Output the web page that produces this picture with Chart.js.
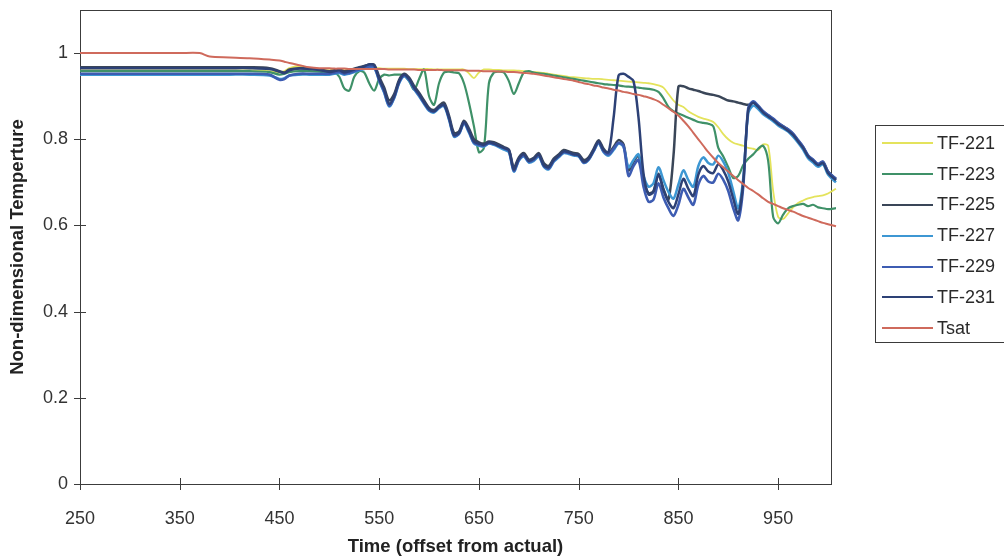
<!DOCTYPE html>
<html>
<head>
<meta charset="utf-8">
<title>Non-dimensional temperature vs time</title>
<script src="https://cdn.jsdelivr.net/npm/chart.js@4.4.0/dist/chart.umd.min.js"></script>
<style>
  html, body { margin: 0; padding: 0; background: #fff; overflow: hidden; }
  #wrap { position: relative; width: 1004px; height: 558px; }
  #legend {
    position: absolute; left: 875px; top: 125px; width: 150px; height: 218px;
    border: 1px solid #3a3a3a; box-sizing: border-box; padding-top: 2px;
    font: 18px "Liberation Sans", Arial, sans-serif; color: #2a2a2a;
  }
  #legend .row { height: 30.8px; display: flex; align-items: center; }
  #legend .swatch { width: 51px; margin-left: 6px; margin-right: 4px; }
</style>
</head>
<body>
<div id="wrap">
  <canvas id="tempChart" width="1004" height="558"></canvas>
  <div id="legend"></div>
</div>
<script>
// time axis shared by all thermocouples
const time = [250,300,350,370,380,400,420,440,450,455,460,470,480,490,
  500,505,510,515,520,525,530,535,540,545,
  550,555,560,565,570,575,580,585,590,595,
  600,605,610,615,620,625,630,635,640,645,
  650,655,660,665,670,675,680,685,690,695,
  700,705,710,715,720,725,730,735,740,745,
  750,755,760,765,770,775,780,785,790,795,
  800,805,810,815,820,825,830,835,840,845,
  850,855,860,865,870,875,880,885,890,895,
  900,905,910,915,920,925,930,935,940,945,
  950,955,960,965,970,975,980,985,990,995,
  1000,1008];

const tf221 = [0.96,0.96,0.96,0.96,0.96,0.96,0.96,0.958,0.955,0.958,0.965,0.97,0.965,0.962,
  0.96,0.962,0.962,0.96,0.962,0.963,0.964,0.965,0.966,0.966,
  0.965,0.964,0.964,0.964,0.964,0.964,0.963,0.963,0.963,0.963,
  0.963,0.962,0.962,0.962,0.962,0.962,0.962,0.962,0.953,0.942,
  0.955,0.962,0.962,0.961,0.961,0.96,0.96,0.96,0.959,0.958,
  0.957,0.956,0.955,0.954,0.952,0.95,0.948,0.947,0.945,0.944,
  0.943,0.942,0.941,0.94,0.94,0.939,0.938,0.937,0.936,0.935,
  0.934,0.933,0.932,0.931,0.93,0.928,0.925,0.92,0.905,0.89,
  0.88,0.875,0.865,0.858,0.852,0.848,0.845,0.84,0.828,0.812,
  0.8,0.792,0.788,0.785,0.78,0.778,0.775,0.788,0.785,0.68,
  0.62,0.615,0.628,0.642,0.652,0.658,0.663,0.666,0.668,0.67,
  0.674,0.685];

const tf223 = [0.958,0.958,0.958,0.958,0.958,0.958,0.958,0.956,0.95,0.952,0.956,0.958,0.958,0.957,
  0.955,0.955,0.945,0.918,0.913,0.945,0.958,0.955,0.93,0.913,
  0.94,0.95,0.948,0.95,0.95,0.948,0.935,0.915,0.94,0.962,
  0.9,0.88,0.93,0.955,0.957,0.955,0.953,0.93,0.885,0.83,
  0.77,0.78,0.93,0.955,0.957,0.955,0.935,0.905,0.93,0.955,
  0.958,0.955,0.953,0.952,0.95,0.948,0.946,0.944,0.942,0.94,
  0.938,0.936,0.934,0.932,0.93,0.928,0.927,0.926,0.925,0.923,
  0.922,0.921,0.92,0.918,0.917,0.915,0.91,0.895,0.875,0.865,
  0.86,0.855,0.85,0.845,0.84,0.838,0.836,0.83,0.78,0.76,
  0.735,0.71,0.715,0.74,0.755,0.765,0.778,0.785,0.75,0.62,
  0.605,0.625,0.64,0.645,0.648,0.65,0.645,0.648,0.642,0.64,
  0.638,0.64];

const tf225 = [0.967,0.967,0.967,0.967,0.967,0.967,0.967,0.965,0.958,0.955,0.962,0.965,0.964,0.962,
  0.958,0.96,0.962,0.958,0.96,0.964,0.967,0.97,0.973,0.973,
  0.945,0.92,0.89,0.905,0.938,0.952,0.943,0.924,0.908,0.89,
  0.873,0.868,0.878,0.885,0.855,0.815,0.818,0.843,0.825,0.8,
  0.793,0.79,0.795,0.793,0.788,0.782,0.776,0.735,0.758,0.768,
  0.753,0.757,0.768,0.745,0.738,0.755,0.765,0.775,0.772,0.768,
  0.766,0.752,0.758,0.778,0.798,0.778,0.768,0.782,0.798,0.788,
  0.728,0.748,0.762,0.705,0.675,0.68,0.72,0.685,0.66,0.76,
  0.922,0.923,0.918,0.915,0.912,0.908,0.905,0.903,0.9,0.895,
  0.89,0.888,0.885,0.882,0.88,0.885,0.876,0.864,0.855,0.847,
  0.837,0.83,0.823,0.812,0.797,0.782,0.762,0.752,0.742,0.748,
  0.725,0.708];

const tf227 = [0.95,0.95,0.95,0.95,0.95,0.95,0.95,0.948,0.94,0.942,0.948,0.95,0.95,0.95,
  0.95,0.952,0.954,0.95,0.952,0.956,0.96,0.963,0.967,0.966,
  0.935,0.908,0.876,0.895,0.93,0.946,0.936,0.916,0.9,0.882,
  0.866,0.862,0.872,0.877,0.845,0.806,0.812,0.836,0.815,0.79,
  0.785,0.783,0.79,0.787,0.782,0.776,0.77,0.725,0.75,0.76,
  0.746,0.75,0.76,0.736,0.73,0.748,0.758,0.768,0.766,0.762,
  0.76,0.745,0.752,0.772,0.79,0.77,0.762,0.775,0.79,0.782,
  0.735,0.752,0.765,0.715,0.69,0.698,0.735,0.705,0.678,0.662,
  0.695,0.728,0.705,0.69,0.738,0.758,0.745,0.742,0.762,0.748,
  0.722,0.68,0.64,0.71,0.86,0.878,0.87,0.858,0.85,0.842,
  0.832,0.825,0.818,0.806,0.792,0.776,0.756,0.746,0.736,0.742,
  0.718,0.7];

const tf229 = [0.952,0.952,0.952,0.952,0.952,0.952,0.952,0.95,0.938,0.94,0.948,0.952,0.952,0.952,
  0.952,0.954,0.956,0.952,0.954,0.958,0.962,0.965,0.969,0.968,
  0.937,0.91,0.878,0.897,0.932,0.948,0.938,0.918,0.902,0.884,
  0.868,0.864,0.874,0.879,0.848,0.808,0.813,0.838,0.818,0.792,
  0.787,0.785,0.791,0.789,0.784,0.779,0.773,0.727,0.752,0.762,
  0.748,0.752,0.762,0.738,0.732,0.75,0.76,0.77,0.768,0.764,
  0.762,0.746,0.753,0.773,0.792,0.772,0.765,0.778,0.792,0.784,
  0.715,0.738,0.752,0.69,0.655,0.66,0.698,0.665,0.64,0.622,
  0.648,0.685,0.665,0.648,0.695,0.715,0.702,0.7,0.72,0.706,
  0.68,0.64,0.612,0.69,0.872,0.888,0.878,0.865,0.856,0.848,
  0.838,0.83,0.823,0.813,0.798,0.783,0.763,0.753,0.743,0.748,
  0.725,0.708];

const tf231 = [0.965,0.965,0.965,0.965,0.965,0.965,0.965,0.963,0.957,0.953,0.96,0.964,0.963,0.961,
  0.956,0.958,0.96,0.955,0.958,0.962,0.966,0.969,0.974,0.972,
  0.94,0.915,0.882,0.9,0.935,0.95,0.94,0.92,0.905,0.886,
  0.87,0.865,0.875,0.88,0.85,0.81,0.815,0.84,0.82,0.795,
  0.79,0.787,0.793,0.79,0.785,0.78,0.775,0.73,0.755,0.765,
  0.75,0.755,0.765,0.74,0.735,0.752,0.762,0.772,0.77,0.765,
  0.763,0.748,0.755,0.775,0.795,0.775,0.77,0.85,0.948,0.952,
  0.945,0.935,0.85,0.72,0.672,0.678,0.718,0.682,0.655,0.64,
  0.672,0.708,0.685,0.668,0.718,0.738,0.725,0.722,0.742,0.728,
  0.702,0.662,0.627,0.7,0.868,0.885,0.875,0.862,0.853,0.845,
  0.835,0.828,0.82,0.81,0.795,0.78,0.76,0.75,0.74,0.745,
  0.722,0.705];

const tsat = [1.0,1.0,1.0,1.0,0.992,0.99,0.988,0.985,0.983,0.98,0.977,0.972,0.967,0.965,
  0.965,0.964,0.964,0.964,0.963,0.963,0.963,0.963,0.963,0.963,
  0.963,0.963,0.962,0.962,0.962,0.962,0.962,0.962,0.961,0.961,
  0.961,0.961,0.961,0.96,0.96,0.96,0.96,0.96,0.959,0.959,
  0.959,0.958,0.958,0.958,0.957,0.957,0.956,0.956,0.955,0.954,
  0.953,0.952,0.95,0.948,0.946,0.944,0.942,0.94,0.938,0.936,
  0.933,0.93,0.928,0.925,0.923,0.92,0.918,0.915,0.913,0.91,
  0.908,0.905,0.903,0.9,0.897,0.893,0.888,0.88,0.872,0.864,
  0.855,0.843,0.83,0.815,0.8,0.785,0.77,0.757,0.745,0.735,
  0.725,0.715,0.705,0.696,0.687,0.68,0.672,0.663,0.655,0.65,
  0.645,0.64,0.636,0.632,0.627,0.622,0.618,0.614,0.61,0.606,
  0.603,0.598];

const seriesNames = ['TF-221','TF-223','TF-225','TF-227','TF-229','TF-231','Tsat'];
const seriesValues = [tf221, tf223, tf225, tf227, tf229, tf231, tsat];
const seriesColors = ['#e4e35c','#3f9168','#3a4658','#3d97d3','#3d5cb2','#2d4176','#cf6a5c'];
const seriesWidths = [1.8, 2.2, 2.5, 2.5, 2.6, 2.5, 2];

const xTicks = [250,350,450,550,650,750,850,950];
const yTicks = [0,0.2,0.4,0.6,0.8,1];

const FONT = '"Liberation Sans", Arial, sans-serif';

// plot frame plus tick marks that cross the axis lines
const frameAndTicks = {
  id: 'frameAndTicks',
  beforeDatasetsDraw(chart) {
    const {ctx, chartArea: a, scales: {x, y}} = chart;
    ctx.save();
    ctx.strokeStyle = '#3c3c3c';
    ctx.lineWidth = 1;
    ctx.strokeRect(a.left + 0.5, a.top + 0.5, a.right - a.left, a.bottom - a.top);
    ctx.beginPath();
    xTicks.forEach(v => {
      const px = Math.round(x.getPixelForValue(v)) + 0.5;
      ctx.moveTo(px, a.bottom - 6);
      ctx.lineTo(px, a.bottom + 6);
    });
    yTicks.forEach(v => {
      const py = Math.round(y.getPixelForValue(v)) + 0.5;
      ctx.moveTo(a.left - 6, py);
      ctx.lineTo(a.left + 6, py);
    });
    ctx.stroke();
    ctx.restore();
  }
};

const datasets = seriesNames.map((name, i) => ({
  label: name,
  data: time.map((t, j) => ({x: t, y: seriesValues[i][j]})),
  borderColor: seriesColors[i],
  backgroundColor: seriesColors[i],
  borderWidth: seriesWidths[i],
  pointRadius: 0,
  tension: 0.3,
  fill: false,
  clip: false,
  order: seriesNames.length - i   // later series sit on top
}));

const chart = new Chart(document.getElementById('tempChart').getContext('2d'), {
  type: 'line',
  data: { datasets },
  plugins: [frameAndTicks],
  options: {
    responsive: false,
    animation: false,
    layout: { padding: { top: 10, right: 173, left: 0, bottom: 0 } },
    plugins: { legend: { display: false }, tooltip: { enabled: false } },
    scales: {
      x: {
        type: 'linear', min: 250, max: 1003,
        afterBuildTicks: s => { s.ticks = xTicks.map(v => ({value: v})); },
        afterFit: s => { s.height = 74; s.paddingLeft = 0; s.paddingRight = 0; },
        grid: { display: false, drawTicks: false },
        border: { display: false },
        ticks: { color: '#333', font: { family: FONT, size: 18 }, padding: 24, maxRotation: 0,
                 callback: v => String(v) },
        title: { display: true, text: 'Time (offset from actual)', color: '#222',
                 font: { family: FONT, size: 18.5, weight: 'bold' }, padding: { top: 0, bottom: 0 } }
      },
      y: {
        min: 0, max: 1.1,
        afterBuildTicks: s => { s.ticks = yTicks.map(v => ({value: v})); },
        afterFit: s => { s.width = 80; s.paddingTop = 0; s.paddingBottom = 0; },
        grid: { display: false, drawTicks: false },
        border: { display: false },
        ticks: { color: '#333', font: { family: FONT, size: 18 }, padding: 12,
                 callback: v => String(+v.toFixed(1)) },
        title: { display: true, text: 'Non-dimensional Temperture', color: '#222',
                 font: { family: FONT, size: 18.5, weight: 'bold' }, padding: { top: 7, bottom: 0 } }
      }
    }
  }
});

// legend box built from the chart's datasets
const legendEl = document.getElementById('legend');
chart.data.datasets.forEach(ds => {
  const row = document.createElement('div');
  row.className = 'row';
  const sw = document.createElement('span');
  sw.className = 'swatch';
  sw.style.borderTop = Math.max(2, ds.borderWidth) + 'px solid ' + ds.borderColor;
  const txt = document.createElement('span');
  txt.textContent = ds.label;
  row.appendChild(sw);
  row.appendChild(txt);
  legendEl.appendChild(row);
});
</script>
</body>
</html>
